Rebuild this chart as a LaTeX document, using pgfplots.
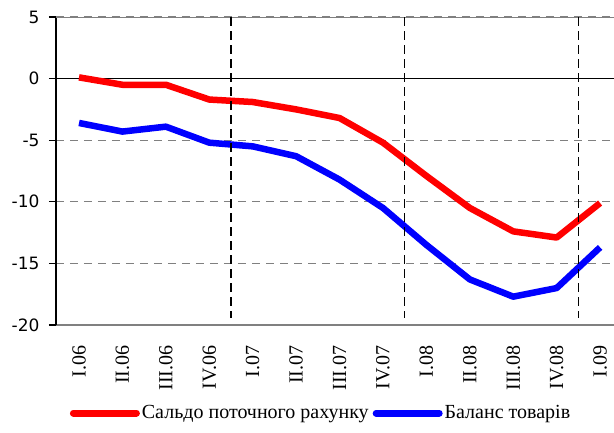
\documentclass[border=0pt]{standalone}
\usepackage{fontspec}
\setmainfont{Liberation Serif}
\newfontfamily\dejavu{DejaVu Sans}
\usepackage{pgfplots}
\pgfplotsset{compat=1.18}
\begin{document}
\begin{tikzpicture}[x=1pt,y=1pt]
\useasboundingbox (-56,-107) rectangle (558,325);
\begin{axis}[
  at={(0,0)}, anchor=south west,
  scale only axis, width=558pt, height=308pt,
  xmin=-0.53, xmax=12.32, ymin=-20, ymax=5,
  axis x line*=bottom, axis y line*=left,
  axis line style={-},
  x axis line style={gray, line width=1.2pt},
  y axis line style={black, line width=1.3pt},
  ytick={-20,-15,...,5},
  yticklabels={{-20\hspace*{6pt}},{-15\hspace*{6pt}},{-10\hspace*{6pt}},{-5\hspace*{6pt}},{0\hspace*{6pt}},{5\hspace*{6pt}}},
  xtick={0,...,12},
  xticklabels={{I.06\hspace*{10pt}},{II.06\hspace*{10pt}},{III.06\hspace*{10pt}},{IV.06\hspace*{10pt}},
    {I.07\hspace*{10pt}},{II.07\hspace*{10pt}},{III.07\hspace*{10pt}},{IV.07\hspace*{10pt}},
    {I.08\hspace*{10pt}},{II.08\hspace*{10pt}},{III.08\hspace*{10pt}},{IV.08\hspace*{10pt}},
    {I.09\hspace*{10pt}}},
  tick align=outside, major tick length=7pt,
  ytick style={black, line width=1.2pt},
  xtick style={draw=none},
  ymajorgrids,
  grid style={gray, dash pattern=on 8pt off 6pt, line width=1.3pt},
  extra y ticks={0}, extra y tick labels={},
  extra y tick style={grid=major, grid style={solid, black, line width=1.4pt}, tick style={draw=none}},
  yticklabel style={font=\dejavu\fontsize{17}{20}\selectfont},
  xticklabel style={rotate=90, anchor=east, font=\rmfamily\fontsize{20}{24}\selectfont},
  legend columns=2,
  legend style={at={(0.475,-0.286)}, anchor=center, draw=none, fill=none,
    font=\rmfamily\fontsize{20}{24}\selectfont, inner xsep=0pt,
    /tikz/every even column/.style={column sep=2pt}},
  legend cell align=left,
  legend image code/.code={\draw[#1, line width=7pt, line cap=round] (0pt,0pt) -- (63pt,0pt);},
]
\addplot[red, line width=6.5pt, line join=round] coordinates {
  (0,0.1) (1,-0.5) (2,-0.5) (3,-1.7) (4,-1.9) (5,-2.5) (6,-3.2)
  (7,-5.2) (8,-7.9) (9,-10.5) (10,-12.4) (11,-12.9) (12,-10.1)
};
\addlegendentry{Сальдо поточного рахунку}
\addplot[blue, line width=6.5pt, line join=round] coordinates {
  (0,-3.6) (1,-4.3) (2,-3.9) (3,-5.2) (4,-5.5) (5,-6.3) (6,-8.2)
  (7,-10.5) (8,-13.5) (9,-16.3) (10,-17.7) (11,-17.0) (12,-13.7)
};
\addlegendentry{Баланс товарів}
\draw[gray, line width=1.2pt] (rel axis cs:0,1) -- (rel axis cs:1,1);
\draw[black, line width=1.6pt, dash pattern=on 9pt off 5pt] (axis cs:3.5,5) -- (axis cs:3.5,-19.4);
\draw[black, line width=1.6pt, dash pattern=on 9pt off 5pt] (axis cs:7.5,5) -- (axis cs:7.5,-19.4);
\draw[black, line width=1.6pt, dash pattern=on 9pt off 5pt] (axis cs:11.5,5) -- (axis cs:11.5,-19.4);
\end{axis}
\end{tikzpicture}
\end{document}
